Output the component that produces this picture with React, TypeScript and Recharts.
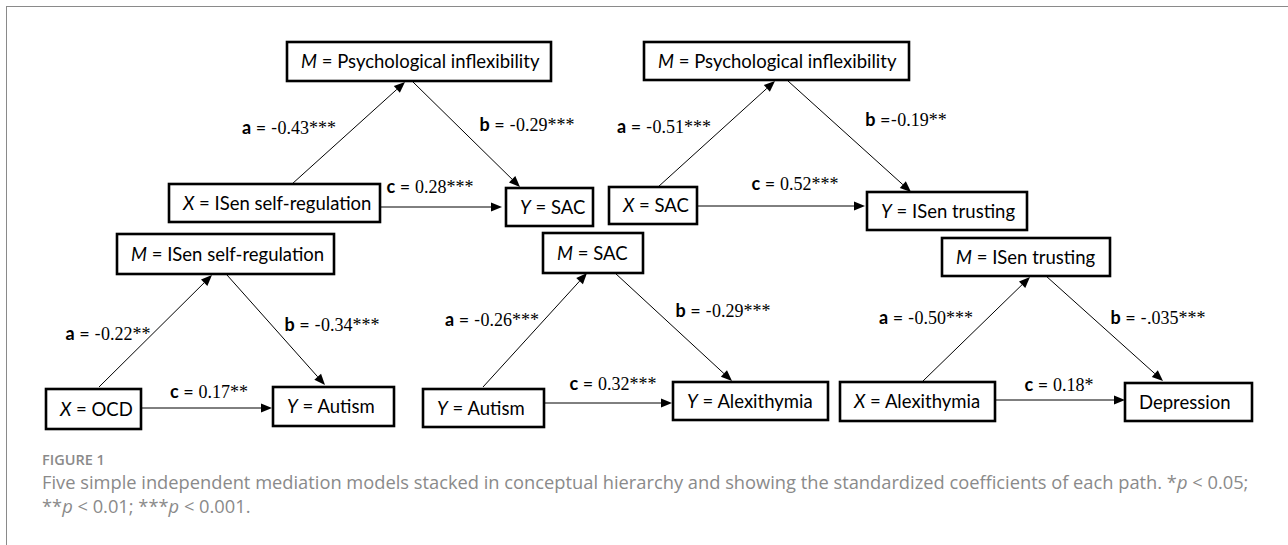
import { ComposedChart, XAxis, YAxis, ReferenceArea, ReferenceLine, Scatter } from "recharts";

// five mediation models: a = X -> M, b = M -> Y, c = X -> Y
const mediators = ["Psychological inflexibility", "Psychological inflexibility", "ISen self-regulation", "SAC", "ISen trusting"];
const predictors = ["ISen self-regulation", "SAC", "OCD", "Autism", "Alexithymia"];
const predictorRoles = ["X", "X", "X", "Y", "X"];
const outcomes = ["SAC", "ISen trusting", "Autism", "Alexithymia", "Depression"];
const outcomeRoles = ["Y", "Y", "Y", "Y", ""];
const pathA = ["-0.43***", "-0.51***", "-0.22**", "-0.26***", "-0.50***"];
const pathB = ["-0.29***", "-0.19**", "-0.34***", "-0.29***", "-.035***"];
const pathBSep = [" = ", " =", " = ", " = ", " = "];
const pathC = ["0.28***", "0.52***", "0.17**", "0.32***", "0.18*"];

// where each model sits on the canvas (data units of the hidden axes)
const LAYOUT = [
  { m: [287, 551, 42, 81], x: [169, 380, 184, 222], y: [506, 593, 188, 226],
    a: [292, 184, 405, 82], b: [413, 82, 520, 187], c: [380, 207, 502, 207],
    la: [289, 128], lb: [527, 125], lc: [430, 187] },
  { m: [644, 909, 42, 80], x: [609, 697, 187, 224], y: [867, 1027, 192, 230],
    a: [658, 187, 775, 81], b: [788, 81, 911, 192], c: [697, 206, 865, 206],
    la: [664, 127], lb: [906, 120], lc: [795, 184] },
  { m: [117, 334, 234, 274], x: [46, 141, 389, 429], y: [273, 394, 387, 426],
    a: [99, 387, 212, 275], b: [227, 275, 325, 385], c: [141, 408, 272, 408],
    la: [108, 334], lb: [332, 325], lc: [209, 392] },
  { m: [543, 643, 233, 273], x: [423, 544, 389, 427], y: [673, 828, 382, 420],
    a: [483, 387, 587, 273], b: [615, 273, 732, 381], c: [544, 403, 672, 403],
    la: [492, 320], lb: [723, 311], lc: [613, 384] },
  { m: [942, 1110, 238, 276], x: [840, 995, 382, 421], y: [1125, 1252, 383, 421],
    a: [923, 381, 1030, 277], b: [1046, 276, 1163, 381], c: [995, 400, 1125, 400],
    la: [926, 318], lb: [1158, 318], lc: [1059, 385] },
];

const W = 1288;
const H = 545;
const SANS = "Lato, 'Open Sans', sans-serif";
const SERIF = "'Liberation Serif', 'DejaVu Serif', serif";

const boxes = LAYOUT.flatMap((l, i) => [
  { key: `m${i}`, r: l.m, role: "M", name: mediators[i] },
  { key: `x${i}`, r: l.x, role: predictorRoles[i], name: predictors[i] },
  { key: `y${i}`, r: l.y, role: outcomeRoles[i], name: outcomes[i] },
]);

const arrows = LAYOUT.flatMap((l, i) => [
  { key: `a${i}`, s: l.a },
  { key: `b${i}`, s: l.b },
  { key: `c${i}`, s: l.c },
]);

const coefLabels = LAYOUT.flatMap((l, i) => [
  { x: l.la[0], y: l.la[1], letter: "a", sep: " = ", value: pathA[i] },
  { x: l.lb[0], y: l.lb[1], letter: "b", sep: pathBSep[i], value: pathB[i] },
  { x: l.lc[0], y: l.lc[1], letter: "c", sep: " = ", value: pathC[i] },
]);

const Arrow = (p: any) => {
  const { x1, y1, x2, y2 } = p;
  const ang = Math.atan2(y2 - y1, x2 - x1);
  const len = 11;
  const half = 4.5;
  const bx = x2 - len * Math.cos(ang);
  const by = y2 - len * Math.sin(ang);
  const pts = [
    `${x2},${y2}`,
    `${bx + half * Math.sin(ang)},${by - half * Math.cos(ang)}`,
    `${bx - half * Math.sin(ang)},${by + half * Math.cos(ang)}`,
  ].join(" ");
  return (
    <g>
      <line x1={x1} y1={y1} x2={bx} y2={by} stroke="#000" strokeWidth={1} />
      <polygon points={pts} fill="#000" />
    </g>
  );
};

const makeBox = (role: string, name: string) => (p: any) => {
  const { x, y, width, height } = p;
  return (
    <g>
      <rect x={x} y={y} width={width} height={height} fill="#fff" stroke="#000" strokeWidth={2.6} />
      <text x={x + 14} y={y + height / 2 + 6.5} fontFamily={SANS} fontSize={18.5} fill="#000">
        {role ? <tspan fontStyle="italic">{role}</tspan> : null}
        {role ? " = " : ""}
        {name}
      </text>
    </g>
  );
};

const CoefLabel = (p: any) => {
  const { cx, cy, payload } = p;
  const v: string = payload.value;
  const sign = v.startsWith("-") ? "-" : "";
  const rest = sign ? v.slice(1) : v;
  return (
    <text x={cx} y={cy + 6} textAnchor="middle" fontSize={18} fill="#000">
      <tspan fontFamily={SANS} fontWeight={700}>{payload.letter}</tspan>
      <tspan fontFamily={SANS}>{payload.sep.replace(/ /g, "\u00a0")}{sign}</tspan>
      <tspan fontFamily={SERIF}>{rest}</tspan>
    </text>
  );
};

export default function App() {
  return (
    <div style={{ position: "absolute", left: 0, top: 0, width: W, height: H, background: "#fff", overflow: "hidden" }}>
      <div
        style={{
          position: "absolute",
          left: 6,
          top: 6,
          right: 0,
          bottom: -2,
          borderTop: "1px solid #8a8a8a",
          borderLeft: "1px solid #8a8a8a",
        }}
      />
      <div style={{ position: "absolute", left: 0, top: 0 }}>
        <ComposedChart width={W} height={H} margin={{ top: 0, right: 0, bottom: 0, left: 0 }}>
          <XAxis type="number" dataKey="x" domain={[0, W]} hide allowDataOverflow />
          <YAxis type="number" dataKey="y" domain={[0, H]} reversed hide allowDataOverflow />
          {arrows.map((a) => (
            <ReferenceLine
              key={a.key}
              segment={[{ x: a.s[0], y: a.s[1] }, { x: a.s[2], y: a.s[3] }]}
              ifOverflow="visible"
              shape={Arrow}
            />
          ))}
          {boxes.map((b) => (
            <ReferenceArea
              key={b.key}
              x1={b.r[0]}
              x2={b.r[1]}
              y1={b.r[2]}
              y2={b.r[3]}
              ifOverflow="visible"
              shape={makeBox(b.role, b.name)}
            />
          ))}
          <Scatter data={coefLabels} shape={CoefLabel} isAnimationActive={false} />
        </ComposedChart>
      </div>
      <div
        style={{
          position: "absolute",
          left: 42,
          top: 451,
          fontFamily: "'Open Sans', sans-serif",
          fontSize: 14.5,
          fontWeight: 600,
          color: "#8a8a8a",
          lineHeight: "18px",
        }}
      >
        FIGURE 1
      </div>
      <div
        style={{
          position: "absolute",
          left: 42,
          top: 470,
          width: 1240,
          fontFamily: "'Open Sans', sans-serif",
          fontSize: 18.3,
          color: "#8a8a8a",
          lineHeight: "24px",
          whiteSpace: "nowrap",
        }}
      >
        Five simple independent mediation models stacked in conceptual hierarchy and showing the standardized coefficients of each path. *<i>p</i> &lt; 0.05;
        <br />
        **<i>p</i> &lt; 0.01; ***<i>p</i> &lt; 0.001.
      </div>
    </div>
  );
}
